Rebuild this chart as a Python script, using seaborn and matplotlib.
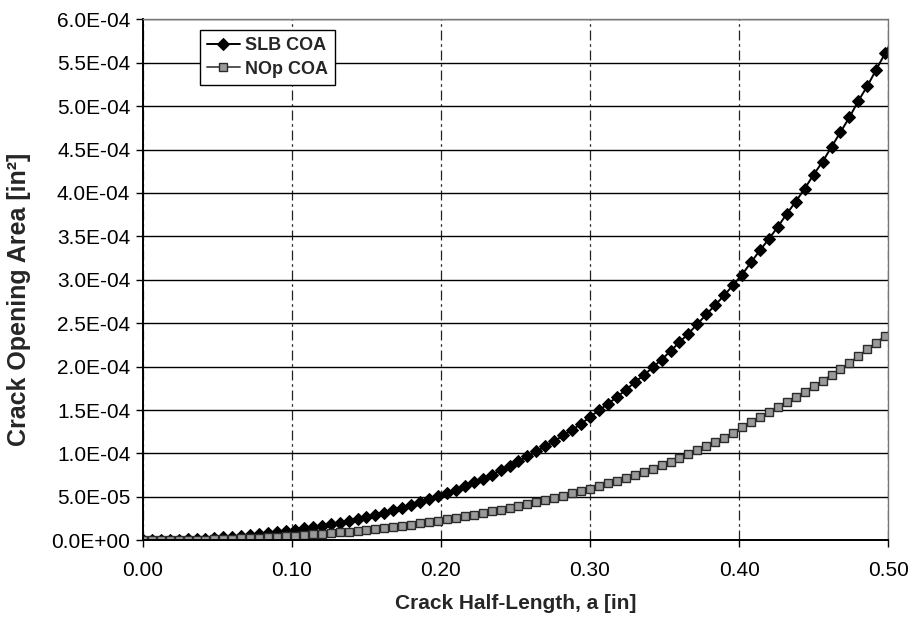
import numpy as np
import pandas as pd
import matplotlib
matplotlib.use("Agg")
import matplotlib.pyplot as plt
import seaborn as sns
from matplotlib.ticker import MultipleLocator, FuncFormatter

# Longitud de media grieta [in], paso de 0.006 (el ultimo punto queda fuera del eje)
paso = 0.006
a_in = [round(i * paso, 3) for i in range(85)]

# Area de apertura de grieta, en unidades de 1E-04 in^2
slb_coa = [0.0, 0.0003, 0.0014, 0.0033, 0.006, 0.0096, 0.014, 0.019, 0.026, 0.033,
           0.041, 0.050, 0.060, 0.071, 0.083, 0.096, 0.110, 0.123, 0.138, 0.152,
           0.168, 0.184, 0.202, 0.222, 0.245, 0.268, 0.291, 0.318, 0.345, 0.376,
           0.404, 0.437, 0.471, 0.508, 0.544, 0.583, 0.622, 0.666, 0.709, 0.755,
           0.804, 0.858, 0.911, 0.965, 1.023, 1.080, 1.141, 1.207, 1.272, 1.341,
           1.420, 1.497, 1.57, 1.65, 1.73, 1.82, 1.90, 1.99, 2.08, 2.18,
           2.28, 2.38, 2.49, 2.60, 2.71, 2.82, 2.94, 3.06, 3.20, 3.34,
           3.47, 3.61, 3.76, 3.90, 4.05, 4.21, 4.36, 4.53, 4.70, 4.87,
           5.06, 5.23, 5.42, 5.61, 5.80]

nop_coa = [0.0, 0.0001, 0.0006, 0.0014, 0.0026, 0.0041, 0.006, 0.008, 0.011, 0.014,
           0.018, 0.022, 0.026, 0.031, 0.036, 0.042, 0.048, 0.054, 0.061, 0.068,
           0.075, 0.082, 0.090, 0.099, 0.109, 0.119, 0.130, 0.142, 0.154, 0.167,
           0.180, 0.194, 0.209, 0.225, 0.241, 0.258, 0.276, 0.294, 0.313, 0.333,
           0.353, 0.374, 0.396, 0.418, 0.441, 0.465, 0.490, 0.515, 0.541, 0.567,
           0.594, 0.624, 0.655, 0.686, 0.716, 0.750, 0.785, 0.824, 0.862, 0.904,
           0.946, 0.988, 1.034, 1.083, 1.129, 1.180, 1.237, 1.300, 1.360, 1.417,
           1.474, 1.532, 1.589, 1.651, 1.712, 1.773, 1.835, 1.904, 1.968, 2.042,
           2.118, 2.198, 2.275, 2.356, 2.44]

df = pd.DataFrame({
    'a': a_in,
    'SLB COA': np.array(slb_coa) * 1e-4,
    'NOp COA': np.array(nop_coa) * 1e-4,
})

# Estilo
sns.set_theme(style="white")
plt.rcParams['font.family'] = ['Liberation Sans', 'DejaVu Sans']

fig = plt.figure(figsize=(9.1, 6.21), dpi=100)
ax = fig.add_axes([0.157, 0.130, 0.819, 0.839])

sns.lineplot(data=df, x='a', y='SLB COA', ax=ax, color='black', lw=1.4,
             marker='D', markersize=6, markeredgecolor='black',
             markerfacecolor='black', label='SLB COA')
sns.lineplot(data=df, x='a', y='NOp COA', ax=ax, color='#555555', lw=1.4,
             marker='s', markersize=6, markeredgecolor='#2a2a2a',
             markerfacecolor='#9a9a9a', markeredgewidth=1.0, label='NOp COA')

ax.set_xlim(0, 0.5)
ax.set_ylim(0, 6e-4)
ax.xaxis.set_major_locator(MultipleLocator(0.1))
ax.yaxis.set_major_locator(MultipleLocator(5e-5))
ax.xaxis.set_major_formatter(FuncFormatter(lambda v, p: f"{v:.2f}"))
ax.yaxis.set_major_formatter(FuncFormatter(lambda v, p: f"{v:.1E}"))

# Lineas de cuadricula
ax.yaxis.grid(True, color='black', lw=1.0, ls='-')
ax.xaxis.grid(True, color='#222222', lw=0.9, ls=(0, (8, 3, 2, 3)))
ax.set_axisbelow(True)

# Bordes
for lado in ['left', 'bottom']:
    ax.spines[lado].set_color('black')
    ax.spines[lado].set_linewidth(1.4)
for lado in ['top', 'right']:
    ax.spines[lado].set_color('#777777')
    ax.spines[lado].set_linewidth(1.0)
    ax.spines[lado].set_linestyle((0, (2, 1)))

ax.tick_params(axis='both', direction='out', length=5, width=1, color='black',
               labelsize=15, labelcolor='black', bottom=True, left=True)
ax.tick_params(axis='x', pad=10)
ax.tick_params(axis='y', pad=4)

ax.set_xlabel('Crack Half-Length, a [in]', fontsize=15, fontweight='bold', labelpad=10)
ax.set_ylabel('Crack Opening Area [in²]', fontsize=18, fontweight='bold')
ax.yaxis.set_label_coords(-0.150, 0.463)

leg = ax.legend(loc='upper left', bbox_to_anchor=(0.0765, 0.979), borderaxespad=0,
                frameon=True, fancybox=False, edgecolor='black', framealpha=1,
                prop={'weight': 'bold', 'size': 13}, handlelength=1.8,
                handletextpad=0.3, labelspacing=0.35, borderpad=0.4)
leg.get_frame().set_linewidth(1.0)

plt.savefig('out.png', dpi=100)
